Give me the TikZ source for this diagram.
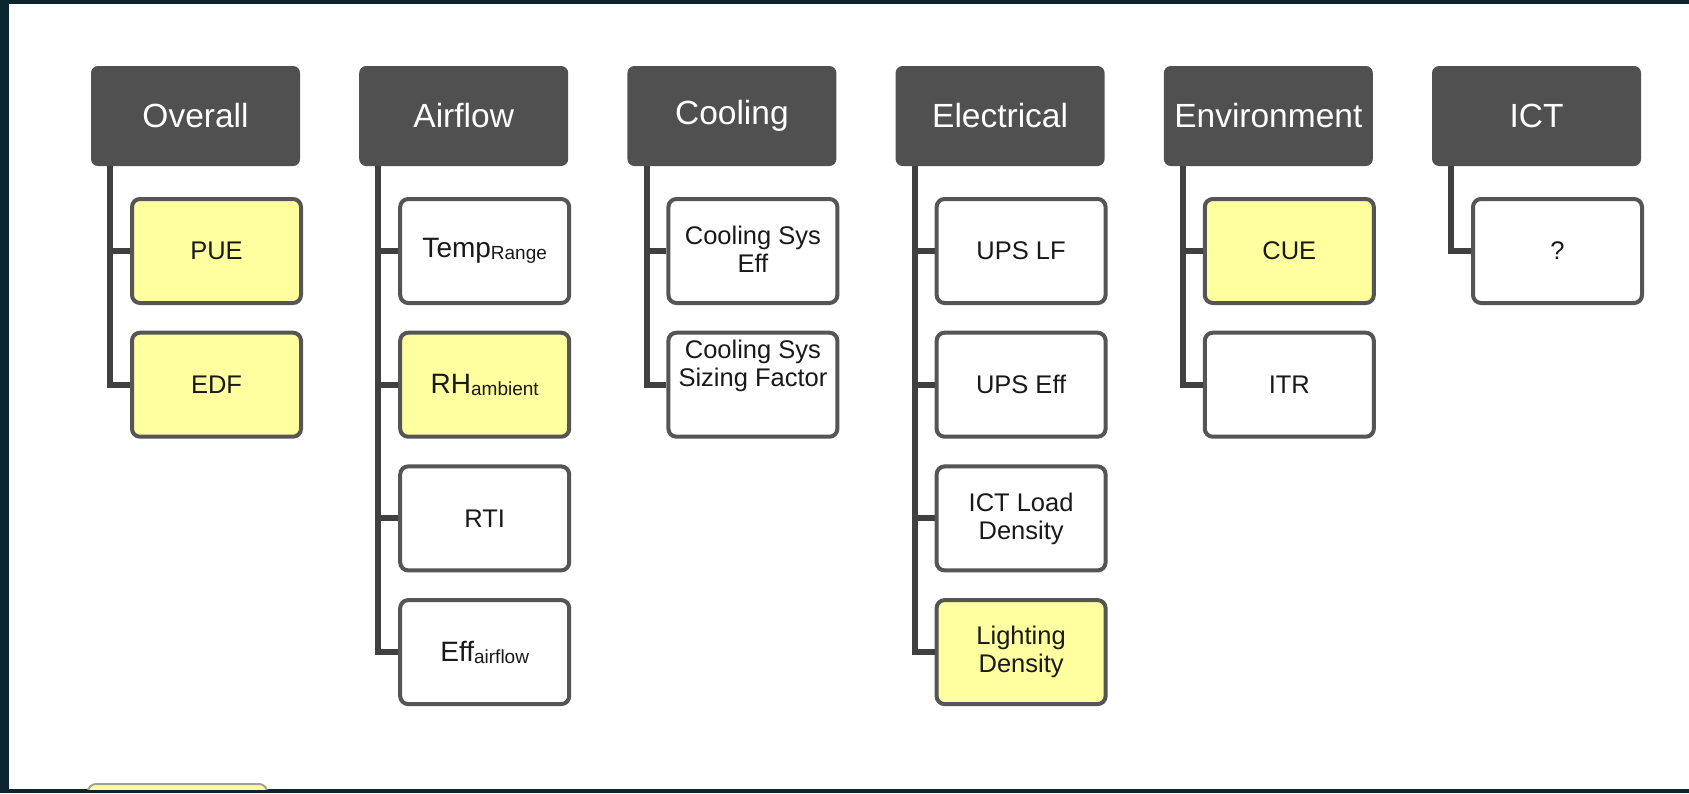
\documentclass[tikz,border=0pt]{standalone}
\usepackage{fontspec}
\setmainfont{Liberation Sans}
\definecolor{framec}{RGB}{10,37,47}
\definecolor{hdrfill}{RGB}{80,80,80}
\definecolor{boxline}{RGB}{85,85,85}
\definecolor{trunkc}{RGB}{64,64,64}
\definecolor{hiyellow}{RGB}{255,255,160}
\tikzset{
  hdr/.style={fill=hdrfill, rounded corners=3.5pt, minimum width=104.5pt, minimum height=50pt,
    inner sep=0pt, text=white, font=\fontsize{16.75}{20}\selectfont},
  leaf/.style={draw=boxline, line width=2pt, fill=white, rounded corners=4pt,
    minimum width=84.5pt, minimum height=52pt, inner sep=0pt, align=center,
    font=\fontsize{12.75}{14}\selectfont, text=black!90},
  hil/.style={leaf, fill=hiyellow},
  leaftext/.style={inner sep=0pt, align=center, font=\fontsize{12.75}{14}\selectfont, text=black!90},
  trunk/.style={draw=trunkc, line width=3pt},
}
\newcommand\subtxt[2]{{\fontsize{14}{16}\selectfont #1}\raisebox{-1pt}{\fontsize{9.5}{11}\selectfont #2}}
\begin{document}
\begin{tikzpicture}[x=0.5pt,y=-0.5pt]
\useasboundingbox (0,0) rectangle (1689,793);
\fill[framec] (0,0) rectangle (1689,793);
\fill[white] (8.7,4) rectangle (1689,789);
\begin{scope}
  \clip (8.7,4) rectangle (1689,789);
  \node[hil, draw=gray!75, line width=1pt, minimum width=89.5pt, minimum height=40pt, anchor=north west] (legend) at (87,783) {};
\end{scope}

% headers
\node[hdr] (h0) at (195.5,116) {Overall};
\node[hdr] (h1) at (463.7,116) {Airflow};
\node[hdr] (h2) at (731.9,116) {Cooling};
\node[hdr] (h3) at (1000.1,116) {Electrical};
\node[hdr] (h4) at (1268.3,116) {Environment};
\node[hdr] (h5) at (1536.5,116) {ICT};

% Overall
\node[hil] (c0a) at (216.5,251) {PUE};
\node[hil] (c0b) at (216.5,384.7) {EDF};
% Airflow
\node[leaf] (c1a) at (484.7,251) {\subtxt{Temp}{Range}};
\node[hil] (c1b) at (484.7,384.7) {\subtxt{RH}{ambient}};
\node[leaf] (c1c) at (484.7,518.4) {RTI};
\node[leaf] (c1d) at (484.7,652.1) {\subtxt{Eff}{airflow}};
% Cooling
\node[leaf] (c2a) at (752.9,251) {};
\node[leaftext] (c2at) at (752.9,249) {Cooling Sys\\Eff};
\node[leaf] (c2b) at (752.9,384.7) {};
\node[leaftext] (c2bt) at (752.9,365.5) {Cooling Sys\\Sizing Factor};
% Electrical
\node[leaf] (c3a) at (1021.1,251) {UPS LF};
\node[leaf] (c3b) at (1021.1,384.7) {UPS Eff};
\node[leaf] (c3c) at (1021.1,518.4) {ICT Load\\Density};
\node[hil] (c3d) at (1021.1,652.1) {Lighting\\Density};
% Environment
\node[hil] (c4a) at (1289.3,251) {CUE};
\node[leaf] (c4b) at (1289.3,384.7) {ITR};
% ICT
\node[leaf] (c5a) at (1557.5,251) {?};

% trunks
\coordinate (t0) at ([xshift=9.75pt]h0.south west);
\coordinate (t1) at ([xshift=9.75pt]h1.south west);
\coordinate (t2) at ([xshift=9.75pt]h2.south west);
\coordinate (t3) at ([xshift=9.75pt]h3.south west);
\coordinate (t4) at ([xshift=9.75pt]h4.south west);
\coordinate (t5) at ([xshift=9.75pt]h5.south west);

\draw[trunk] (t0) |- (c0b.west);
\draw[trunk] (c0a.west) -- (c0a.west -| t0);

\draw[trunk] (t1) |- (c1d.west);
\draw[trunk] (c1a.west) -- (c1a.west -| t1);
\draw[trunk] (c1b.west) -- (c1b.west -| t1);
\draw[trunk] (c1c.west) -- (c1c.west -| t1);

\draw[trunk] (t2) |- (c2b.west);
\draw[trunk] (c2a.west) -- (c2a.west -| t2);

\draw[trunk] (t3) |- (c3d.west);
\draw[trunk] (c3a.west) -- (c3a.west -| t3);
\draw[trunk] (c3b.west) -- (c3b.west -| t3);
\draw[trunk] (c3c.west) -- (c3c.west -| t3);

\draw[trunk] (t4) |- (c4b.west);
\draw[trunk] (c4a.west) -- (c4a.west -| t4);

\draw[trunk] (t5) |- (c5a.west);
\end{tikzpicture}
\end{document}
